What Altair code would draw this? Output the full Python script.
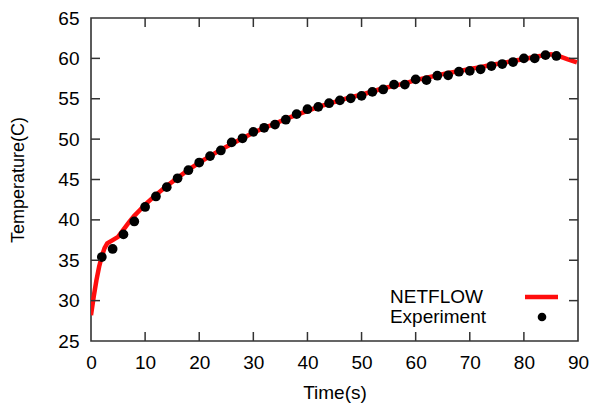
import altair as alt
import pandas as pd

# ---------------- data ----------------
netflow_t = [0, 0.5, 1, 1.5, 2, 2.5, 3, 4, 5, 6, 7, 8, 9, 10, 12, 14, 16, 18, 20,
             22, 24, 26, 28, 30, 32, 34, 36, 38, 40, 42, 44, 46, 48, 50, 52, 54,
             56, 58, 60, 62, 64, 66, 68, 70, 72, 74, 76, 78, 80, 82, 84, 85, 86,
             88, 89.8]
netflow_v = [28.2, 30.5, 32.5, 34.2, 35.5, 36.5, 37.1, 37.5, 37.9, 38.8, 39.7,
             40.5, 41.2, 41.9, 43.1, 44.2, 45.2, 46.2, 47.1, 47.9, 48.7, 49.4,
             50.1, 50.8, 51.4, 51.9, 52.5, 53.0, 53.5, 54.0, 54.4, 54.8, 55.2,
             55.5, 55.9, 56.3, 56.6, 56.9, 57.3, 57.6, 57.9, 58.2, 58.4, 58.7,
             58.9, 59.2, 59.4, 59.7, 59.9, 60.2, 60.4, 60.5, 60.4, 59.9, 59.5]

exp_t = [2, 4, 6, 8, 10, 12, 14, 16, 18, 20, 22, 24, 26, 28, 30, 32, 34, 36, 38,
         40, 42, 44, 46, 48, 50, 52, 54, 56, 58, 60, 62, 64, 66, 68, 70, 72, 74,
         76, 78, 80, 82, 84, 86]
exp_v = [35.4, 36.4, 38.2, 39.8, 41.6, 42.9, 44.05, 45.15, 46.15, 47.1, 47.9,
         48.6, 49.6, 50.1, 50.9, 51.4, 51.8, 52.4, 53.1, 53.7, 54.0, 54.45, 54.8,
         55.05, 55.35, 55.85, 56.15, 56.75, 56.75, 57.4, 57.3, 57.85, 57.9, 58.35,
         58.45, 58.65, 59.05, 59.3, 59.55, 60.0, 60.0, 60.4, 60.3]

x_labels = [0, 10, 20, 30, 40, 50, 60, 70, 80, 90]
y_labels = [25, 30, 35, 40, 45, 50, 55, 60, 65]
x_inner_ticks = [10, 20, 30, 40, 50, 60, 70, 80]
y_inner_ticks = [30, 35, 40, 45, 50, 55, 60]

series_names = ["NETFLOW", "Experiment"]
x_title = "Time(s)"
y_title = "Temperature(C)"

# ---------------- chart ----------------
W, H = 487, 323
FONT = "Liberation Sans"
FS = 19
RED = "#ff0d0d"
TICK = 9

line_df = pd.DataFrame({"t": netflow_t, "v": netflow_v})
pts_df = pd.DataFrame({"t": exp_t, "v": exp_v})
xt_df = pd.DataFrame({"t": x_inner_ticks})
yt_df = pd.DataFrame({"v": y_inner_ticks})
one = pd.DataFrame({"a": [0]})

xs = alt.Scale(domain=[0, 90], nice=False, zero=False)
ys = alt.Scale(domain=[25, 65], nice=False, zero=False)

line = alt.Chart(line_df).mark_line(color=RED, strokeWidth=4.5, clip=True).encode(
    x=alt.X("t:Q", scale=xs, title=x_title,
            axis=alt.Axis(values=x_labels, ticks=False, domain=False, grid=False,
                          labelPadding=12, titlePadding=11, labelFontSize=FS,
                          titleFontSize=FS, labelFont=FONT, titleFont=FONT,
                          titleFontWeight="normal", labelColor="black",
                          titleColor="black", labelFlush=False)),
    y=alt.Y("v:Q", scale=ys, title=y_title,
            axis=alt.Axis(values=y_labels, ticks=False, domain=False, grid=False,
                          labelPadding=12, titlePadding=30, labelFontSize=FS,
                          titleFontSize=FS - 1, labelFont=FONT, titleFont=FONT,
                          titleFontWeight="normal", labelColor="black",
                          titleColor="black", labelFlush=False)),
)

pts = alt.Chart(pts_df).mark_circle(size=95, color="black", opacity=1).encode(
    x=alt.X("t:Q", scale=xs), y=alt.Y("v:Q", scale=ys))

tick_style = dict(color="#333333", strokeWidth=1.5)
bt = alt.Chart(xt_df).mark_rule(**tick_style).encode(
    x=alt.X("t:Q", scale=xs), y=alt.value(H), y2=alt.value(H - TICK))
tt = alt.Chart(xt_df).mark_rule(**tick_style).encode(
    x=alt.X("t:Q", scale=xs), y=alt.value(0), y2=alt.value(TICK))
lt = alt.Chart(yt_df).mark_rule(**tick_style).encode(
    y=alt.Y("v:Q", scale=ys), x=alt.value(0), x2=alt.value(TICK))
rt = alt.Chart(yt_df).mark_rule(**tick_style).encode(
    y=alt.Y("v:Q", scale=ys), x=alt.value(W), x2=alt.value(W - TICK))

leg1 = alt.Chart(one).mark_text(align="right", baseline="middle", font=FONT,
                                fontSize=FS, color="black").encode(
    text=alt.value(series_names[0]), x=alt.value(392), y=alt.value(279))
leg2 = alt.Chart(one).mark_text(align="right", baseline="middle", font=FONT,
                                fontSize=FS, color="black").encode(
    text=alt.value(series_names[1]), x=alt.value(395), y=alt.value(299))
leg_line = alt.Chart(one).mark_rule(color=RED, strokeWidth=4.5).encode(
    x=alt.value(434), x2=alt.value(467), y=alt.value(279))
leg_dot = alt.Chart(one).mark_circle(size=75, color="black", opacity=1).encode(
    x=alt.value(451), y=alt.value(299))

chart = alt.layer(line, pts, bt, tt, lt, rt, leg1, leg2, leg_line, leg_dot).properties(
    width=W, height=H,
    autosize=alt.AutoSizeParams(type="none"),
    padding={"left": 83, "top": 10, "right": 11, "bottom": 62},
).configure_view(stroke="#333333", strokeWidth=1.6)

chart.save("out.html", embed_options={"renderer": "svg", "actions": False})
